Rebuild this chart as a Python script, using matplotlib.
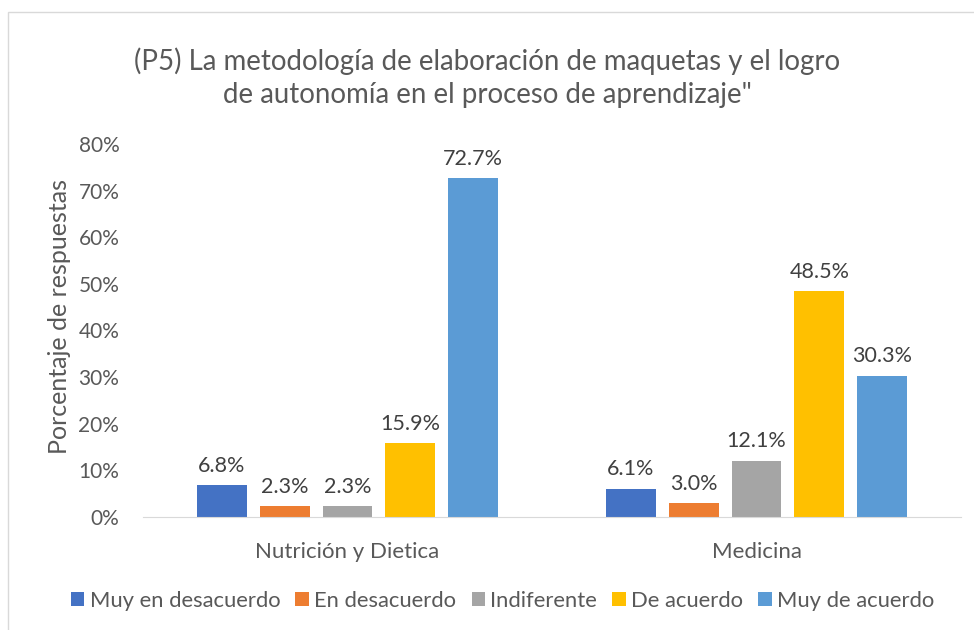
import matplotlib
matplotlib.use('Agg')
import matplotlib.pyplot as plt
import numpy as np
from matplotlib.patches import Rectangle

plt.rcParams['font.family'] = ['Lato', 'DejaVu Sans']

categories = ['Nutrición y Dietica', 'Medicina']
series = ['Muy en desacuerdo', 'En desacuerdo', 'Indiferente', 'De acuerdo', 'Muy de acuerdo']
values = [
    [6.8, 6.1],
    [2.3, 3.0],
    [2.3, 12.1],
    [15.9, 48.5],
    [72.7, 30.3],
]
colors = ['#4472C4', '#ED7D31', '#A5A5A5', '#FFC000', '#5B9BD5']
title = '(P5) La metodología de elaboración de maquetas y el logro\nde autonomía en el proceso de aprendizaje"'

fig = plt.figure(figsize=(9.74, 6.3), dpi=100)
ax = fig.add_axes([0.1468, 0.1794, 0.8399, 0.592])

x = np.arange(len(categories))
width = 0.122
step = 0.1535
for i, (name, vals) in enumerate(zip(series, values)):
    pos = x + (i - 2) * step
    bars = ax.bar(pos, [v / 100 for v in vals], width, color=colors[i], label=name)
    for b, v in zip(bars, vals):
        ax.text(b.get_x() + b.get_width() / 2, b.get_height() + 0.02, f'{v:.1f}%',
                ha='center', va='bottom', fontsize=15.5, color='#404040')

ax.set_xlim(-0.5, 1.5)
ax.set_ylim(0, 0.8)
ax.set_yticks(np.arange(0, 0.81, 0.1))
ax.set_yticklabels([f'{int(round(t * 100))}%' for t in np.arange(0, 0.81, 0.1)])
ax.set_xticks(x)
ax.set_xticklabels(categories)
ax.tick_params(axis='y', length=0, labelsize=15, colors='#595959', pad=17)
ax.tick_params(axis='x', length=0, labelsize=16, colors='#595959', pad=18)
for s in ['top', 'right', 'left']:
    ax.spines[s].set_visible(False)
ax.spines['bottom'].set_color('#D9D9D9')

# y-axis title placed directly
fig.text(60 / 974, (630 - 317) / 630, 'Porcentaje de respuestas', rotation=90,
         ha='center', va='center', fontsize=18, color='#595959')

fig.text(0.5, 0.877, title, ha='center', va='center', fontsize=19.9, color='#595959',
         linespacing=1.33)

ax.legend(loc='center', bbox_to_anchor=(0.516, 0.046), bbox_transform=fig.transFigure,
          ncol=5, frameon=False, fontsize=15.8, handlelength=0.6, handleheight=0.6,
          handletextpad=0.25, columnspacing=0.7, labelcolor='#595959')

fig.patches.append(Rectangle((8 / 974, -0.1), 1.2, (630 - 12) / 630 + 0.1,
                             transform=fig.transFigure, fill=False,
                             edgecolor='#D9D9D9', linewidth=1))

fig.savefig('out.png', dpi=100)
